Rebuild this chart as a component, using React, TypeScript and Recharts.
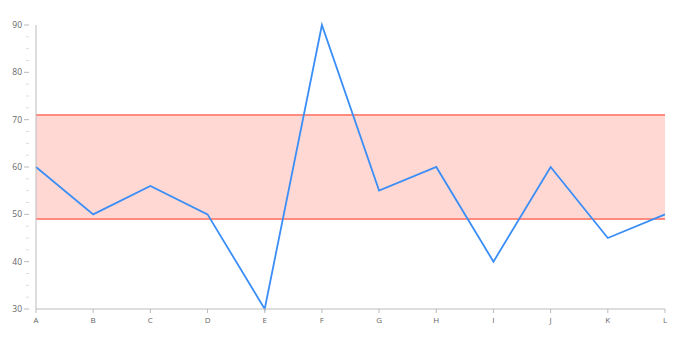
import React from "react";
import { LineChart, Line, XAxis, YAxis, ReferenceArea, ReferenceLine } from "recharts";

const categories = ["A", "B", "C", "D", "E", "F", "G", "H", "I", "J", "K", "L"];
const values = [60, 50, 56, 50, 30, 90, 55, 60, 40, 60, 45, 50];
const yTicks = [30, 32.5, 35, 37.5, 40, 42.5, 45, 47.5, 50, 52.5, 55, 57.5, 60, 62.5, 65, 67.5, 70, 72.5, 75, 77.5, 80, 82.5, 85, 87.5, 90];
const bandLow = 49;
const bandHigh = 71;

const data = categories.map((c, i) => ({ name: c, value: values[i] }));

const YTick = (props: any) => {
  const { x, y, payload } = props;
  const v = payload.value;
  const major = v % 10 === 0;
  return (
    <g>
      <line x1={x + 1} x2={x + 1 - (major ? 5 : 3)} y1={y} y2={y} stroke={major ? "#bbb" : "#ddd"} strokeWidth={1} />
      {major && (
        <text x={x - 6} y={y} dy={3} textAnchor="end" fontSize={8.5} fill="#666" fontFamily="Open Sans, sans-serif">
          {v}
        </text>
      )}
    </g>
  );
};

const XTick = (props: any) => {
  const { x, y, payload } = props;
  return (
    <text x={x} y={y} dy={8} textAnchor="middle" fontSize={8} fill="#666" fontFamily="Open Sans, sans-serif">
      {payload.value}
    </text>
  );
};

export default function App() {
  return (
    <LineChart width={672} height={328} data={data} margin={{ top: 17, right: 15, bottom: 7, left: 0 }}>
      <XAxis
        dataKey="name"
        stroke="#bbb"
        tickSize={4}
        tick={<XTick />}
        interval={0}
        height={20}
      />
      <YAxis
        domain={[30, 90]}
        ticks={yTicks}
        interval={0}
        width={28}
        stroke="#bbb"
        tickLine={false}
        tick={<YTick />}
      />
      <ReferenceArea y1={bandLow} y2={bandHigh} fill="#ffd8d4" fillOpacity={1} stroke="none" />
      <ReferenceLine y={bandHigh} stroke="#ff8c7f" strokeWidth={2} />
      <ReferenceLine y={bandLow} stroke="#ff8c7f" strokeWidth={2} />
      <Line type="linear" dataKey="value" stroke="#3a8ef6" strokeWidth={1.8} dot={false} isAnimationActive={false} />
    </LineChart>
  );
}
